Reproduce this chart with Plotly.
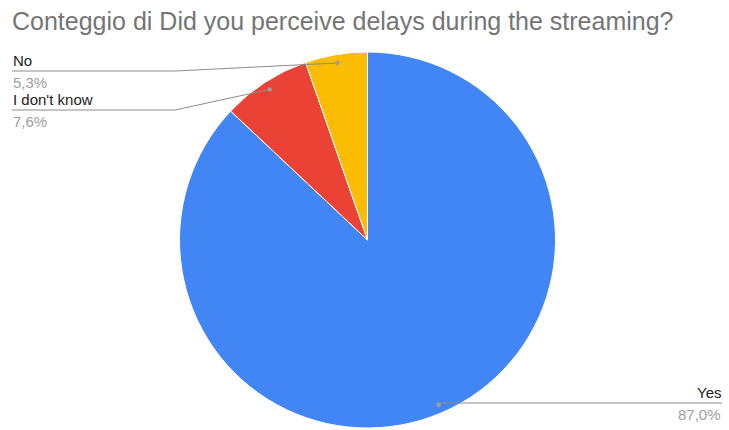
import math
import plotly.graph_objects as go

# Data
categories = ["Yes", "I don't know", "No"]
counts = [114, 10, 7]
colors = ["#4285F4", "#EA4335", "#FBBC04"]
title_text = "Conteggio di Did you perceive delays during the streaming?"

W, H = 729, 430
cx, cy, R = 367.5, 240.0, 188.0  # pie centre / radius in pixels
FONT = "Liberation Sans, Arial, sans-serif"


def px(x, y):
    return x / W, 1 - y / H


total = sum(counts)
pcts = [c / total * 100 for c in counts]

fig = go.Figure(go.Pie(
    labels=categories, values=counts, sort=False, direction="clockwise",
    rotation=0, textinfo="none", hoverinfo="label+percent",
    marker=dict(colors=colors, line=dict(color="white", width=1)),
    domain=dict(x=[(cx - R) / W, (cx + R) / W], y=[1 - (cy + R) / H, 1 - (cy - R) / H]),
    showlegend=False,
))

# label placement (layout): side and line y / elbow
label_layout = {
    "Yes": dict(side="right", line_y=403.0),
    "I don't know": dict(side="left", line_y=110.0),
    "No": dict(side="left", line_y=71.0),
}

shapes, annotations = [], []
cum = 0.0
line_col = "#8c8c8c"
for cat, v, p in zip(categories, counts, pcts):
    mid = (cum + v / 2) / total
    cum += v
    ang = mid * 2 * math.pi
    dx = cx + 0.955 * R * math.sin(ang)
    dy = cy - 0.955 * R * math.cos(ang)
    L = label_layout[cat]
    ly = L["line_y"]
    if L["side"] == "left":
        xe, xt, anchor = 175.0, 12.0, "left"
        pts = [(dx, dy), (xe, ly), (xt, ly)]
    else:
        xt, anchor = 722.0, "right"
        pts = [(dx, dy), (dx, ly), (xt, ly)]
    path = "M " + " L ".join(f"{px(a, b)[0]},{px(a, b)[1]}" for a, b in pts)
    shapes.append(dict(type="path", path=path, xref="paper", yref="paper",
                       line=dict(color=line_col, width=1)))
    r = 2.2
    x0, y0 = px(dx - r, dy + r)
    x1, y1 = px(dx + r, dy - r)
    shapes.append(dict(type="circle", xref="paper", yref="paper", x0=x0, y0=y0, x1=x1, y1=y1,
                       fillcolor="#9e9e9e", line=dict(color="#9e9e9e", width=0)))
    ax, ay = px(xt, ly)
    annotations.append(dict(text=cat, x=ax, y=ay, xref="paper", yref="paper",
                            xanchor=anchor, yanchor="bottom", showarrow=False, yshift=0,
                            xshift=-1 if anchor == "left" else 1,
                            font=dict(family=FONT, size=15, color="#222222")))
    annotations.append(dict(text=f"{p:.1f}".replace(".", ",") + "%", x=ax, y=ay,
                            xref="paper", yref="paper", xanchor=anchor, yanchor="top",
                            showarrow=False, yshift=-1,
                            xshift=-1 if anchor == "left" else 1,
                            font=dict(family=FONT, size=15, color="#9e9e9e")))

fig.update_layout(
    width=W, height=H, margin=dict(l=0, r=0, t=0, b=0),
    paper_bgcolor="white", plot_bgcolor="white",
    title=dict(text=title_text, x=12 / W, xanchor="left", xref="container",
               y=1 - 21 / H, yanchor="middle", yref="container",
               font=dict(family=FONT, size=25, color="#757575")),
    shapes=shapes, annotations=annotations,
)

fig.write_html("out.html", config={"displayModeBar": False},
               post_script="document.body.style.margin='0';")
